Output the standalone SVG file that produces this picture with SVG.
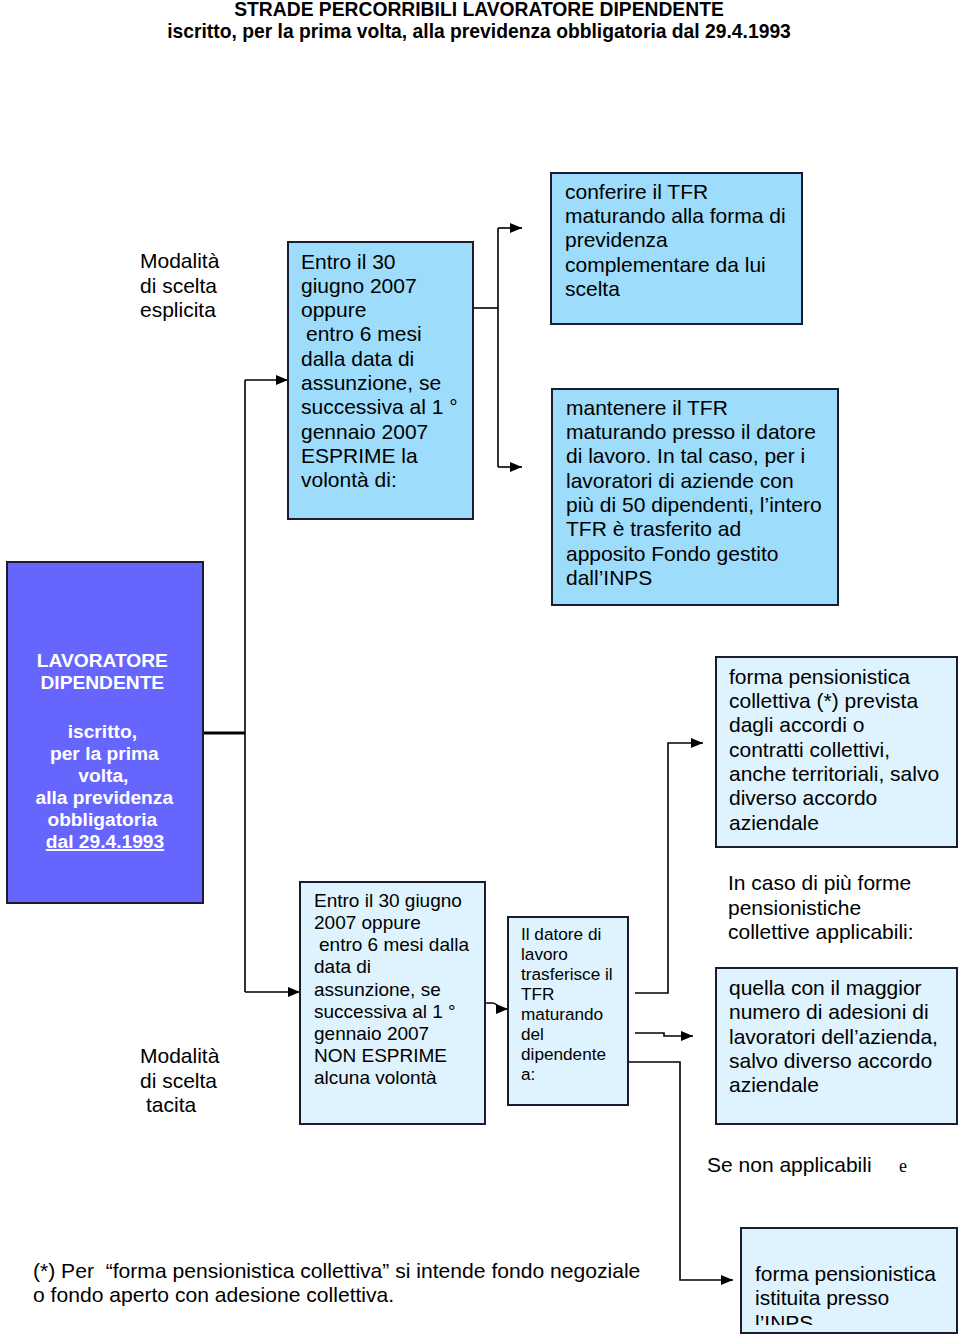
<svg xmlns="http://www.w3.org/2000/svg" width="960" height="1336" viewBox="0 0 960 1336">
<style>
  text { font-family: "Liberation Sans", Arial, sans-serif; fill: #000; }
  .t20 { font-size: 21px; }
  .t19 { font-size: 19px; }
  .t16 { font-size: 17.2px; }
  .title { font-size: 19.3px; font-weight: bold; }
  .main { fill: #6666ff; stroke: #1c1c30; stroke-width: 2; }
  .blue { fill: #9ddcfa; stroke: #1c1c30; stroke-width: 2; }
  .pale { fill: #def3fd; stroke: #1c1c30; stroke-width: 2; }
  .wt { font-size: 19.2px; font-weight: bold; fill: #fff; }
  .ln { fill: none; stroke: #000; stroke-width: 1.6; }
</style>
<defs>
  <marker id="ah" markerWidth="12" markerHeight="10" refX="12" refY="5" orient="auto" markerUnits="userSpaceOnUse">
    <path d="M0,0 L12,5 L0,10 Z" fill="#000"/>
  </marker>
  <clipPath id="clipInps"><rect x="741" y="1228" width="216" height="97"/></clipPath>
</defs>
<rect width="960" height="1336" fill="#fff"/>

<g id="title">
  <text class="title" x="479" y="16" text-anchor="middle">STRADE PERCORRIBILI LAVORATORE DIPENDENTE</text>
  <text class="title" x="479" y="38" text-anchor="middle">iscritto, per la prima volta, alla previdenza obbligatoria dal 29.4.1993</text>
</g>

<g id="connectors">
  <line class="ln" x1="197" y1="733" x2="245" y2="733" style="stroke-width:3"/>
  <line class="ln" x1="245" y1="380" x2="245" y2="992"/>
  <line class="ln" x1="245" y1="380" x2="288" y2="380" marker-end="url(#ah)"/>
  <line class="ln" x1="245" y1="992" x2="300" y2="992" marker-end="url(#ah)"/>
  <polyline class="ln" points="473,308 498,308"/>
  <line class="ln" x1="498" y1="228" x2="498" y2="467"/>
  <line class="ln" x1="498" y1="228" x2="522" y2="228" marker-end="url(#ah)"/>
  <line class="ln" x1="498" y1="467" x2="522" y2="467" marker-end="url(#ah)"/>
  <path class="ln" d="M485,1003 L492,1003 Q497,1003 499,1009 L508,1009" marker-end="url(#ah)"/>
  <polyline class="ln" points="635,993 668,993 668,743 703,743" marker-end="url(#ah)"/>
  <polyline class="ln" points="635,1033 664,1033 664,1036 693,1036" marker-end="url(#ah)"/>
  <polyline class="ln" points="628,1062 680,1062 680,1280 733,1280" marker-end="url(#ah)"/>
</g>

<g id="lavoratore">
  <rect class="main" x="7" y="562" width="196" height="341"/>
  <text class="wt" text-anchor="middle">
    <tspan x="105" y="667">LAVORATORE</tspan>
    <tspan x="105" y="689">DIPENDENTE</tspan>
    <tspan x="105" y="738">iscritto,</tspan>
    <tspan x="107" y="760">per la prima</tspan>
    <tspan x="106" y="782">volta,</tspan>
    <tspan x="107" y="804">alla previdenza</tspan>
    <tspan x="105" y="826">obbligatoria</tspan>
    <tspan x="105" y="848" text-decoration="underline">dal 29.4.1993</tspan>
  </text>
</g>

<g id="label-esplicita">
  <text class="t20"><tspan x="140" y="268">Modalità</tspan><tspan x="140" y="293">di scelta</tspan><tspan x="140" y="317">esplicita</tspan></text>
</g>

<g id="label-tacita">
  <text class="t20"><tspan x="140" y="1063">Modalità</tspan><tspan x="140" y="1088">di scelta</tspan><tspan x="146" y="1112">tacita</tspan></text>
</g>

<g id="esprime">
  <rect class="blue" x="288" y="242" width="185" height="277"/>
  <text class="t20">
    <tspan x="301" y="269">Entro il 30</tspan>
    <tspan x="301" y="293">giugno 2007</tspan>
    <tspan x="301" y="317">oppure</tspan>
    <tspan x="306" y="341">entro 6 mesi</tspan>
    <tspan x="301" y="366">dalla data di</tspan>
    <tspan x="301" y="390">assunzione, se</tspan>
    <tspan x="301" y="414">successiva al 1 °</tspan>
    <tspan x="301" y="439">gennaio 2007</tspan>
    <tspan x="301" y="463">ESPRIME la</tspan>
    <tspan x="301" y="487">volontà di:</tspan>
  </text>
</g>

<g id="conferire">
  <rect class="blue" x="551" y="173" width="251" height="151"/>
  <text class="t20">
    <tspan x="565" y="199">conferire il TFR</tspan>
    <tspan x="565" y="223">maturando alla forma di</tspan>
    <tspan x="565" y="247">previdenza</tspan>
    <tspan x="565" y="272">complementare da lui</tspan>
    <tspan x="565" y="296">scelta</tspan>
  </text>
</g>

<g id="mantenere">
  <rect class="blue" x="552" y="389" width="286" height="216"/>
  <text class="t20">
    <tspan x="566" y="415">mantenere il TFR</tspan>
    <tspan x="566" y="439">maturando presso il datore</tspan>
    <tspan x="566" y="463">di lavoro. In tal caso, per i</tspan>
    <tspan x="566" y="488">lavoratori di aziende con</tspan>
    <tspan x="566" y="512">più di 50 dipendenti, l’intero</tspan>
    <tspan x="566" y="536">TFR è trasferito ad</tspan>
    <tspan x="566" y="561">apposito Fondo gestito</tspan>
    <tspan x="566" y="585">dall’INPS</tspan>
  </text>
</g>

<g id="non-esprime">
  <rect class="pale" x="300" y="882" width="185" height="242"/>
  <text class="t19">
    <tspan x="314" y="907">Entro il 30 giugno</tspan>
    <tspan x="314" y="929">2007 oppure</tspan>
    <tspan x="319" y="951">entro 6 mesi dalla</tspan>
    <tspan x="314" y="973">data di</tspan>
    <tspan x="314" y="996">assunzione, se</tspan>
    <tspan x="314" y="1018">successiva al 1 °</tspan>
    <tspan x="314" y="1040">gennaio 2007</tspan>
    <tspan x="314" y="1062">NON ESPRIME</tspan>
    <tspan x="314" y="1084">alcuna volontà</tspan>
  </text>
</g>

<g id="datore">
  <rect class="pale" x="508" y="917" width="120" height="188"/>
  <text class="t16">
    <tspan x="521" y="940">Il datore di</tspan>
    <tspan x="521" y="960">lavoro</tspan>
    <tspan x="521" y="980">trasferisce il</tspan>
    <tspan x="521" y="1000">TFR</tspan>
    <tspan x="521" y="1020">maturando</tspan>
    <tspan x="521" y="1040">del</tspan>
    <tspan x="521" y="1060">dipendente</tspan>
    <tspan x="521" y="1080">a:</tspan>
  </text>
</g>

<g id="collettiva">
  <rect class="pale" x="716" y="657" width="241" height="190"/>
  <text class="t20">
    <tspan x="729" y="684">forma pensionistica</tspan>
    <tspan x="729" y="708">collettiva (*) prevista</tspan>
    <tspan x="729" y="732">dagli accordi o</tspan>
    <tspan x="729" y="757">contratti collettivi,</tspan>
    <tspan x="729" y="781">anche territoriali, salvo</tspan>
    <tspan x="729" y="805">diverso accordo</tspan>
    <tspan x="729" y="830">aziendale</tspan>
  </text>
</g>

<g id="label-piu-forme">
  <text class="t20">
    <tspan x="728" y="890">In caso di più forme</tspan>
    <tspan x="728" y="915">pensionistiche</tspan>
    <tspan x="728" y="939">collettive applicabili:</tspan>
  </text>
</g>

<g id="maggior">
  <rect class="pale" x="716" y="968" width="241" height="156"/>
  <text class="t20">
    <tspan x="729" y="995">quella con il maggior</tspan>
    <tspan x="729" y="1019">numero di adesioni di</tspan>
    <tspan x="729" y="1044">lavoratori dell’azienda,</tspan>
    <tspan x="729" y="1068">salvo diverso accordo</tspan>
    <tspan x="729" y="1092">aziendale</tspan>
  </text>
</g>

<g id="label-non-applicabili">
  <text class="t20" x="707" y="1172">Se non applicabili</text>
  <text x="899" y="1172" style="font-family:'Liberation Serif','Times New Roman',serif;font-size:18px">e</text>
</g>

<g id="inps">
  <rect class="pale" x="741" y="1228" width="216" height="105"/>
  <text class="t20" clip-path="url(#clipInps)">
    <tspan x="755" y="1281">forma pensionistica</tspan>
    <tspan x="755" y="1305">istituita presso</tspan>
    <tspan x="755" y="1330">l’INPS</tspan>
  </text>
</g>

<g id="footnote">
  <text class="t20" style="font-size:21.1px;white-space:pre">
    <tspan x="33" y="1278">(*) Per  “forma pensionistica collettiva” si intende fondo negoziale</tspan>
    <tspan x="33" y="1302">o fondo aperto con adesione collettiva.</tspan>
  </text>
</g>
</svg>
